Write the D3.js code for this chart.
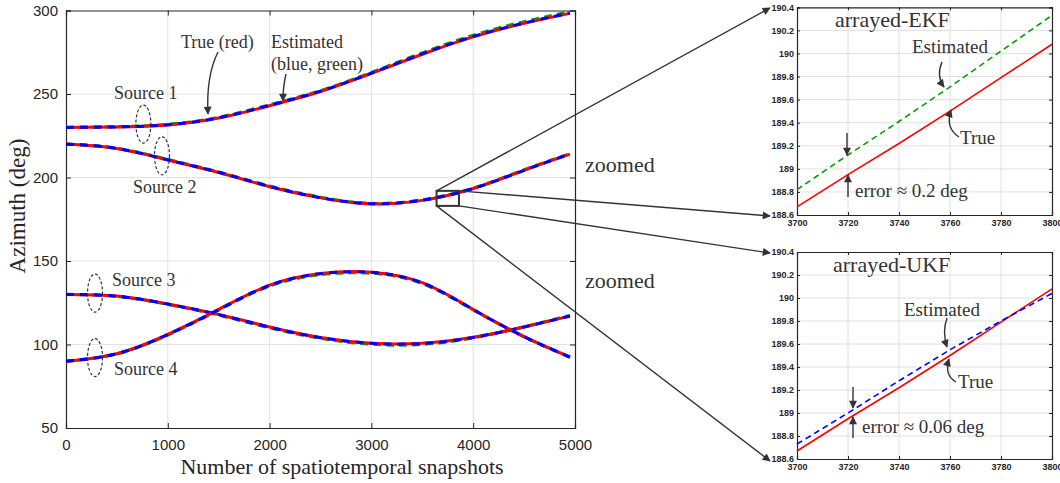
<!DOCTYPE html>
<html>
<head>
<meta charset="utf-8">
<script src="https://cdn.jsdelivr.net/npm/d3@7"></script>
<style>
body { margin: 0; background: #fff; }
svg { display: block; }
</style>
</head>
<body>
<svg id="chart" width="1060" height="483"></svg>
<script>
// sampled snapshots along the trajectories
const snapshots = [0, 500, 1000, 1500, 2000, 2500, 3000, 3500, 4000, 4500, 4950];

const source1True = [230, 230.3, 231.5, 235.6, 243, 251.5, 262.3, 273.8, 284.2, 292.3, 298.3];
const source1Ekf  = [230, 230.4, 231.8, 236, 243.5, 252, 262.9, 274.6, 285.1, 293.3, 299.2];
const source1Ukf  = [230, 230.3, 231.6, 235.7, 243.2, 251.7, 262.5, 274, 284.4, 292.5, 298.5];

const source2True = [220, 217.3, 210.5, 203, 194.5, 187.8, 184.2, 186.3, 193.4, 204.3, 214];
const source2Ekf  = [220, 217.5, 210.8, 203.3, 194.9, 188.2, 184.5, 186.6, 193.6, 204.6, 214.2];
const source2Ukf  = [220, 217.4, 210.6, 203.1, 194.6, 187.9, 184.3, 186.4, 193.4, 204.3, 214];

const source3True = [130, 129, 124.3, 118, 110.5, 104.2, 100.8, 100.8, 104.3, 110.5, 117];
const source3Ekf  = [130, 128.8, 124, 117.6, 110, 103.7, 100.2, 100.1, 104, 110.6, 117.4];
const source3Ukf  = [130, 128.9, 124.2, 117.9, 110.4, 104.1, 100.7, 100.6, 104.2, 110.5, 117.1];

const source4True = [90, 94.5, 106, 121, 135.5, 142.5, 143.3, 137, 121, 104.7, 92.5];
const source4Ekf  = [90, 94.4, 105.7, 120.6, 135, 141.9, 142.7, 136.5, 120.8, 104.6, 92.4];
const source4Ukf  = [90, 94.5, 105.9, 120.9, 135.4, 142.4, 143.2, 136.9, 120.9, 104.7, 92.5];

const xTicks = [0, 1000, 2000, 3000, 4000, 5000];
const yTicks = [50, 100, 150, 200, 250, 300];

// zoomed window (source 2, snapshots 3700..3800)
const zoomSnapshots = [3700, 3720, 3740, 3760, 3780, 3800];
const zoomTrue = [188.67, 188.95, 189.22, 189.5, 189.79, 190.08];
const zoomEkf  = [188.82, 189.12, 189.41, 189.71, 190.02, 190.33];
const zoomUkf  = [188.73, 189.0, 189.28, 189.55, 189.8, 190.04];
const zoomXTicks = [3700, 3720, 3740, 3760, 3780, 3800];
const zoomYTicks = [188.6, 188.8, 189, 189.2, 189.4, 189.6, 189.8, 190, 190.2, 190.4];

const RED = "#ff0000", BLUE = "#0000ff", GREEN = "#0a9a0a", INK = "#333";

const svg = d3.select("#chart");

// arrow head
svg.append("defs").append("marker")
    .attr("id", "arrow")
    .attr("viewBox", "0 0 10 10")
    .attr("refX", 9).attr("refY", 5)
    .attr("markerUnits", "userSpaceOnUse")
    .attr("markerWidth", 10).attr("markerHeight", 8)
    .attr("orient", "auto")
    .append("path")
    .attr("d", "M0,0 L10,5 L0,10 z")
    .attr("fill", INK);

// ----- Main chart -----
const x = d3.scaleLinear().domain([0, 5000]).range([66, 575]);
const y = d3.scaleLinear().domain([50, 300]).range([428, 10.5]);

const main = svg.append("g");

// grid
main.selectAll(".gx").data(xTicks.slice(1, -1)).enter().append("line")
    .attr("x1", d => x(d)).attr("x2", d => x(d))
    .attr("y1", y(50)).attr("y2", y(300))
    .attr("stroke", "#e3e3e3");
main.selectAll(".gy").data(yTicks.slice(1, -1)).enter().append("line")
    .attr("x1", x(0)).attr("x2", x(5000))
    .attr("y1", d => y(d)).attr("y2", d => y(d))
    .attr("stroke", "#e3e3e3");

function styleAxis(g, size) {
    g.select(".domain").attr("stroke", "#262626").attr("stroke-width", 1.2);
    g.selectAll(".tick line").attr("stroke", "#262626");
    g.selectAll("text").attr("fill", "#262626").style("font-family", "'Liberation Sans', Arial, sans-serif").style("font-size", size);
}

main.append("g").attr("transform", `translate(0,${y(50)})`)
    .call(d3.axisBottom(x).tickValues(xTicks).tickSize(-5).tickPadding(11).tickFormat(d3.format("d")))
    .call(g => styleAxis(g, "15px"));
main.append("g").attr("transform", `translate(${x(0)},0)`)
    .call(d3.axisLeft(y).tickValues(yTicks).tickSize(-5).tickPadding(8))
    .call(g => styleAxis(g, "15px"));
main.append("g").attr("transform", `translate(0,${y(300)})`)
    .call(d3.axisTop(x).tickValues(xTicks).tickSize(-5).tickFormat(""))
    .call(g => styleAxis(g, "15px"));
main.append("g").attr("transform", `translate(${x(5000)},0)`)
    .call(d3.axisRight(y).tickValues(yTicks).tickSize(-5).tickFormat(""))
    .call(g => styleAxis(g, "15px"));

const mainLine = d3.line()
    .x(d => x(d[0]))
    .y(d => y(d[1]))
    .curve(d3.curveNatural);

const sources = [
    [source1True, source1Ekf, source1Ukf],
    [source2True, source2Ekf, source2Ukf],
    [source3True, source3Ekf, source3Ukf],
    [source4True, source4Ekf, source4Ukf]
];

sources.forEach(s => {
    const pts = arr => snapshots.map((t, i) => [t, arr[i]]);
    main.append("path").attr("d", mainLine(pts(s[1])))
        .attr("fill", "none").attr("stroke", GREEN).attr("stroke-width", 3.2)
        .attr("stroke-dasharray", "8,5");
    main.append("path").attr("d", mainLine(pts(s[0])))
        .attr("fill", "none").attr("stroke", RED).attr("stroke-width", 3);
    main.append("path").attr("d", mainLine(pts(s[2])))
        .attr("fill", "none").attr("stroke", BLUE).attr("stroke-width", 3)
        .attr("stroke-dasharray", "8,6");
});

// axis titles
svg.append("text")
    .attr("x", 342).attr("y", 474)
    .attr("text-anchor", "middle")
    .style("font-family", "'Liberation Serif', 'Times New Roman', serif")
    .style("font-size", "22px").attr("fill", "#262626")
    .text("Number of spatiotemporal snapshots");
svg.append("text")
    .attr("transform", "translate(25,206) rotate(-90)")
    .attr("text-anchor", "middle")
    .style("font-family", "'Liberation Serif', 'Times New Roman', serif")
    .style("font-size", "23px").attr("fill", "#262626")
    .text("Azimuth (deg)");

// annotations
function note(g, px, py, txt, size) {
    g.append("text").attr("x", px).attr("y", py)
        .style("font-family", "'Liberation Serif', 'Times New Roman', serif")
        .style("font-size", size || "18px").attr("fill", INK)
        .text(txt);
}
function arrow(g, d) {
    g.append("path").attr("d", d)
        .attr("fill", "none").attr("stroke", INK).attr("stroke-width", 1.4)
        .attr("marker-end", "url(#arrow)");
}

note(main, 181, 48, "True (red)");
note(main, 271, 48, "Estimated");
note(main, 271, 70, "(blue, green)");
note(main, 114, 99, "Source 1");
note(main, 133, 193, "Source 2");
note(main, 112, 286, "Source 3");
note(main, 114, 375, "Source 4");
note(svg, 585, 172, "zoomed", "22px");
note(svg, 585, 288, "zoomed", "22px");

arrow(main, "M218,52 Q206,76 208,114");
arrow(main, "M286,74 Q283,86 283,101");

const ellipses = [[760, 232], [943, 213], [285, 130.8], [285, 92.2]];
main.selectAll(".ring").data(ellipses).enter().append("ellipse")
    .attr("cx", d => x(d[0])).attr("cy", d => y(d[1]))
    .attr("rx", 7.5).attr("ry", 19)
    .attr("fill", "none").attr("stroke", INK).attr("stroke-width", 1.2)
    .attr("stroke-dasharray", "3,2");

// zoom box
const box = { x0: 3640, x1: 3860, y0: 183, y1: 192 };
main.append("rect")
    .attr("x", x(box.x0)).attr("y", y(box.y1))
    .attr("width", x(box.x1) - x(box.x0)).attr("height", y(box.y0) - y(box.y1))
    .attr("fill", "none").attr("stroke", INK).attr("stroke-width", 2);

// ----- Zoom panels -----
const zx = d3.scaleLinear().domain([3700, 3800]).range([797, 1052]);

function panel(top, bottom, estimate, estColor, title, errText, notes) {
    const zy = d3.scaleLinear().domain([188.6, 190.4]).range([bottom, top]);
    const g = svg.append("g");
    g.selectAll(".gx").data(zoomXTicks.slice(1, -1)).enter().append("line")
        .attr("x1", d => zx(d)).attr("x2", d => zx(d))
        .attr("y1", top).attr("y2", bottom).attr("stroke", "#e0e0e0");
    g.selectAll(".gy").data(zoomYTicks.slice(1, -1)).enter().append("line")
        .attr("x1", zx(3700)).attr("x2", zx(3800))
        .attr("y1", d => zy(d)).attr("y2", d => zy(d)).attr("stroke", "#e0e0e0");

    const bold = ax => ax.call(a => {
        styleAxis(a, "9px");
        a.selectAll("text").style("font-weight", "bold");
    });
    g.append("g").attr("transform", `translate(0,${bottom})`)
        .call(d3.axisBottom(zx).tickValues(zoomXTicks).tickSize(-3).tickPadding(5).tickFormat(d3.format("d")))
        .call(bold);
    g.append("g").attr("transform", `translate(${zx(3700)},0)`)
        .call(d3.axisLeft(zy).tickValues(zoomYTicks).tickSize(-3).tickPadding(3).tickFormat(d3.format("")))
        .call(bold);
    g.append("g").attr("transform", `translate(0,${top})`)
        .call(d3.axisTop(zx).tickValues(zoomXTicks).tickSize(-3).tickFormat(""))
        .call(bold);
    g.append("g").attr("transform", `translate(${zx(3800)},0)`)
        .call(d3.axisRight(zy).tickValues(zoomYTicks).tickSize(-3).tickFormat(""))
        .call(bold);

    const zl = d3.line().x((d, i) => zx(zoomSnapshots[i])).y(d => zy(d));
    g.append("path").attr("d", zl(zoomTrue))
        .attr("fill", "none").attr("stroke", RED).attr("stroke-width", 1.6);
    g.append("path").attr("d", zl(estimate))
        .attr("fill", "none").attr("stroke", estColor).attr("stroke-width", 1.6)
        .attr("stroke-dasharray", "6,4");

    note(g, notes.title[0], notes.title[1], title, "22px");
    note(g, notes.est[0], notes.est[1], "Estimated", "19px");
    note(g, notes.tru[0], notes.tru[1], "True", "19px");
    note(g, notes.err[0], notes.err[1], errText, "19px");
    notes.arrows.forEach(d => arrow(g, d));
}

panel(7.3, 215, zoomEkf, GREEN, "arrayed-EKF", "error \u2248 0.2 deg", {
    title: [835, 27], est: [912, 53], tru: [960, 144], err: [855, 197],
    arrows: ["M942,62 Q936,76 944,87", "M959,137 Q945,128 951,110",
             "M847,133 L847,155", "M848,197 L848,175"]
});
panel(252, 459, zoomUkf, BLUE, "arrayed-UKF", "error \u2248 0.06 deg", {
    title: [833, 272], est: [904, 316], tru: [958, 388], err: [862, 433],
    arrows: ["M947,318 Q942,332 947,347", "M956,382 Q944,375 949,359",
             "M853,387 L853,408", "M853,438 L853,417"]
});

// connectors from zoom box to panels
const bx0 = x(box.x0), bx1 = x(box.x1), by0 = y(box.y1), by1 = y(box.y0);
arrow(svg, `M${bx0},${by0} L770,8`);
arrow(svg, `M${bx1},${by0} L770,216`);
arrow(svg, `M${bx1},${by1} L770,253`);
arrow(svg, `M${bx0},${by1} L770,461`);
</script>
</body>
</html>
